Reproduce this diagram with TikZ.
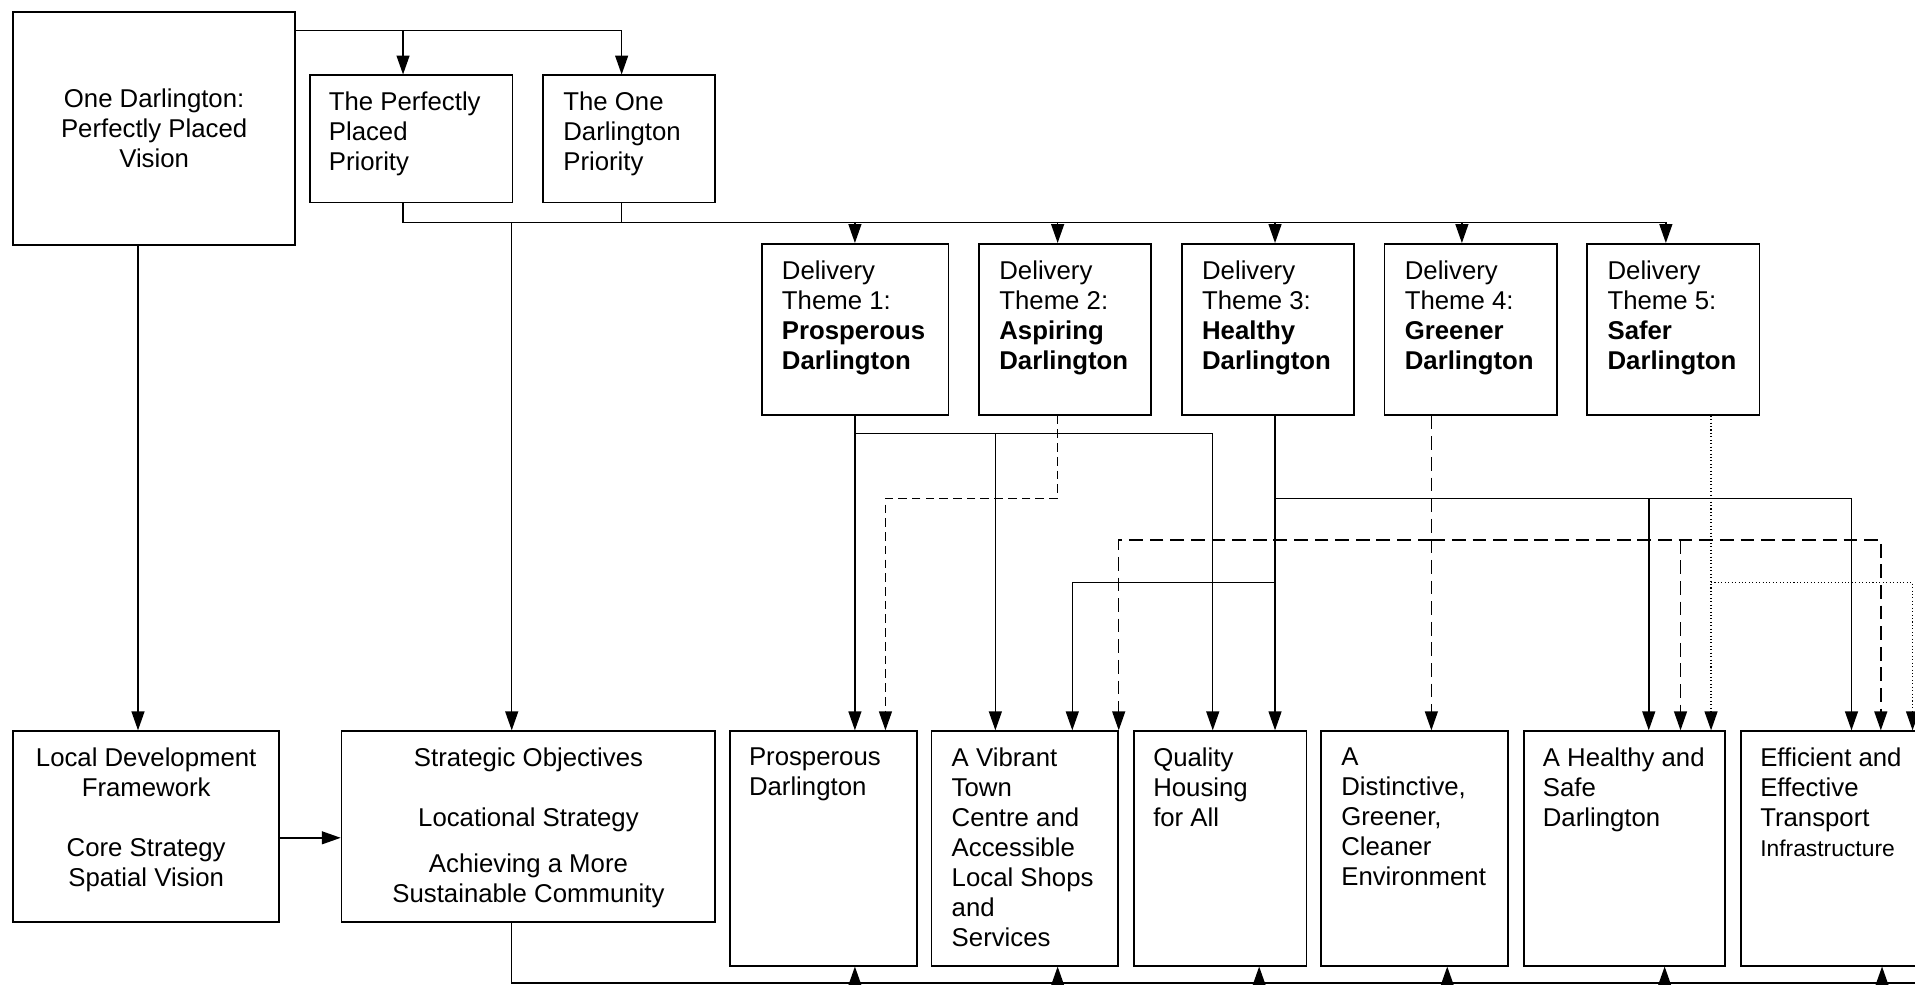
\documentclass[tikz,border=0pt]{standalone}
\usepackage{fontspec}
\setmainfont{Liberation Sans}
\usetikzlibrary{arrows.meta,positioning}

\tikzset{
  box/.style={draw, line width=1pt, inner sep=0pt, anchor=north west},
  sz/.style 2 args={minimum width=#1*0.025cm, minimum height=#2*0.025cm},
  txt/.style={inner sep=0pt, anchor=north west, align=left},
  link/.style={line width=0.85pt},
  arr/.style={link, -{Triangle[length=11pt,width=7.5pt]}},
  dashshort/.style={dash pattern=on 5pt off 3pt},
  dashlong/.style={dash pattern=on 8pt off 4pt},
  dotline/.style={dash pattern=on 0.6pt off 1.4pt},
}

\begin{document}
\begin{tikzpicture}[x=0.025cm, y=-0.025cm, font=\fontsize{15}{17.5}\selectfont]
\useasboundingbox (0,0) rectangle (1568,806);

% vision and the two priorities
\node[box, sz={231}{191}, align=center] (vis) at (10,9) {One Darlington:\\Perfectly Placed\\Vision};
\node[box, sz={166}{104}] (ppp) at (253,61) {};
\node[txt] (ppp-t) at ([shift={(16,14)}]ppp.north west) {The Perfectly\\Placed\\Priority};
\node[box, sz={141}{104}] (odp) at (444,61) {};
\node[txt] (odp-t) at ([shift={(17,14)}]odp.north west) {The One\\Darlington\\Priority};

% delivery themes
\foreach \n/\x/\w/\a in {1/623/153/Prosperous, 2/801/141/Aspiring, 3/967/141/Healthy,
                         4/1133/141/Greener, 5/1299/141/Safer} {
  \node[box, sz={\w}{140}] (dt\n) at (\x,199) {};
  \node[txt] (dt\n-t) at ([shift={(17,14)}]dt\n.north west)
    {Delivery\\Theme \n:\\\textbf{\a}\\\textbf{Darlington}};
}

% spatial side
\node[box, sz={218}{156}] (ldf) at (10,598) {};
\node[txt, anchor=north, align=center] (ldf-t) at ([shift={(0,14)}]ldf.north)
  {Local Development\\Framework\\[17.5pt]Core Strategy\\Spatial Vision};
\node[box, sz={306}{156}] (strat) at (279,598) {};
\node[txt, anchor=north, align=center] (strat-t) at ([shift={(0,14)}]strat.north)
  {Strategic Objectives\\[17.5pt]Locational Strategy\\[9.5pt]Achieving a More\\Sustainable Community};

% outcomes
\node[box, sz={153}{192}] (pros) at (597,598) {};
\node[txt] (pros-t) at ([shift={(16,14)}]pros.north west) {Prosperous\\Darlington};
\node[box, sz={153}{192}] (vib) at (762,598) {};
\node[txt] (vib-t) at ([shift={(17,14)}]vib.north west)
  {A Vibrant\\Town\\Centre and\\Accessible\\Local Shops\\and\\Services};
\node[box, sz={141}{192}] (qual) at (928,598) {};
\node[txt] (qual-t) at ([shift={(16,14)}]qual.north west) {Quality\\Housing\\for All};
\node[box, sz={153}{192}] (dist) at (1081,598) {};
\node[txt] (dist-t) at ([shift={(17,14)}]dist.north west)
  {A\\Distinctive,\\Greener,\\Cleaner\\Environment};
\node[box, sz={165}{192}] (heal) at (1247,598) {};
\node[txt] (heal-t) at ([shift={(16,14)}]heal.north west) {A Healthy and\\Safe\\Darlington};
\node[box, sz={170}{192}] (eff) at (1425,598) {};
\node[txt] (eff-t) at ([shift={(16,14)}]eff.north west)
  {Efficient and\\Effective\\Transport\\{\fontsize{13.3}{16}\selectfont Infrastructure}};

% top connectors
\draw[link] (vis.east |- 0,25) -- (509,25);
\foreach \x/\b in {330/ppp, 509/odp} \draw[arr] (\x,25) -- (\x,0 |- \b.north);
\draw[link] (330,0 |- ppp.south) -- (330,182) -- (1364,182);
\draw[link] (509,0 |- odp.south) -- (509,182);
\foreach \x/\b in {700/dt1, 866/dt2, 1044/dt3, 1197/dt4, 1364/dt5}
  \draw[arr] (\x,182) -- (\x,0 |- \b.north);
\draw[arr] (419,182) -- (419,0 |- strat.north);
\draw[arr] (113,0 |- vis.south) -- (113,0 |- ldf.north);
\draw[arr] (ldf.east |- 0,686) -- (strat.west |- 0,686);

% theme 1
\draw[arr] (700,0 |- dt1.south) -- (700,0 |- pros.north);
\draw[arr] (700,355) -- (993,355) -- (993,0 |- qual.north);
\draw[arr] (815,355) -- (815,0 |- vib.north);

% theme 2
\draw[arr, dashshort] (866,0 |- dt2.south) -- (866,408) -- (725,408) -- (725,0 |- pros.north);

% theme 3
\draw[arr] (1044,0 |- dt3.south) -- (1044,0 |- qual.north);
\draw[arr] (1044,408) -- (1516,408) -- (1516,0 |- eff.north);
\draw[arr] (1350,408) -- (1350,0 |- heal.north);
\draw[arr] (1044,477) -- (878,477) -- (878,0 |- vib.north);

% theme 4
\draw[arr, dashlong] (1172,0 |- dt4.south) -- (1172,0 |- dist.north);
\draw[arr, dashlong] (1172,442) -- (916,442) -- (916,0 |- vib.north);
\draw[arr, dashlong] (1172,442) -- (1540,442) -- (1540,0 |- eff.north);
\draw[arr, dashlong] (1376,442) -- (1376,0 |- heal.north);

% theme 5
\draw[arr, dotline] (1401,0 |- dt5.south) -- (1401,0 |- heal.north);
\draw[arr, dotline] (1401,477) -- (1566,477) -- (1566,0 |- eff.north);

% bottom feed
\draw[link] (419,0 |- strat.south) -- (419,805) -- (1600,805);
\foreach \x/\b in {700/pros, 866/vib, 1031/qual, 1185/dist, 1363/heal, 1541/eff}
  \draw[arr] (\x,805) -- (\x,0 |- \b.south);
\end{tikzpicture}
\end{document}
